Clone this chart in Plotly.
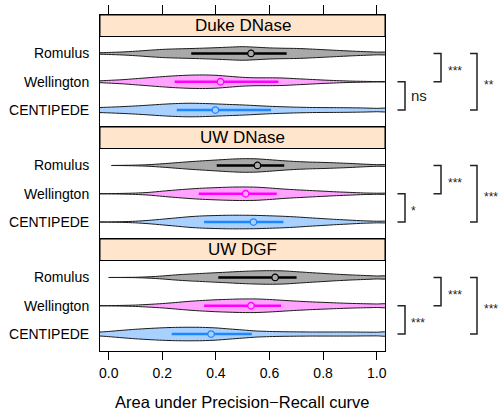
import plotly.graph_objects as go

# ---------------- data ----------------
GROUPS = ["Duke DNase", "UW DNase", "UW DGF"]
METHODS = ["Romulus", "Wellington", "CENTIPEDE"]
X_TICKS = [0.0, 0.2, 0.4, 0.6, 0.8, 1.0]
X_TICK_LABELS = ["0.0", "0.2", "0.4", "0.6", "0.8", "1.0"]
X_TITLE = "Area under Precision\u2212Recall curve"

# AUPR grid at which violin density widths were read (relative, max = 1)
GRID = [-0.05, 0.00, 0.05, 0.10, 0.15, 0.20, 0.25, 0.30, 0.35, 0.40, 0.45, 0.50,
        0.55, 0.60, 0.65, 0.70, 0.75, 0.80, 0.85, 0.90, 0.95, 1.00, 1.05]

DUKE_ROMULUS = [0.08, 0.15, 0.22, 0.33, 0.47, 0.60, 0.67, 0.72, 0.78, 0.85, 0.93, 1.00,
                0.92, 0.82, 0.77, 0.74, 0.66, 0.56, 0.46, 0.36, 0.28, 0.20, 0.14]
DUKE_WELLINGTON = [0.10, 0.20, 0.30, 0.45, 0.60, 0.75, 0.88, 0.97, 1.00, 0.95, 0.80, 0.65,
                   0.58, 0.58, 0.55, 0.45, 0.35, 0.25, 0.17, 0.10, 0.06, 0.03, 0.02]
DUKE_CENTIPEDE = [0.35, 0.42, 0.50, 0.60, 0.72, 0.85, 0.95, 1.00, 0.97, 0.90, 0.82, 0.75,
                  0.65, 0.55, 0.48, 0.42, 0.38, 0.36, 0.35, 0.33, 0.30, 0.25, 0.22]

UWD_ROMULUS = [0.00, 0.00, 0.02, 0.05, 0.12, 0.25, 0.40, 0.55, 0.68, 0.80, 0.92, 1.00,
               0.98, 0.85, 0.70, 0.58, 0.50, 0.45, 0.38, 0.30, 0.20, 0.12, 0.08]
UWD_WELLINGTON = [0.00, 0.02, 0.05, 0.10, 0.20, 0.38, 0.55, 0.70, 0.82, 0.90, 0.97, 1.00,
                  0.97, 0.85, 0.70, 0.58, 0.48, 0.38, 0.28, 0.20, 0.12, 0.08, 0.05]
UWD_CENTIPEDE = [0.00, 0.02, 0.05, 0.12, 0.25, 0.42, 0.60, 0.78, 0.90, 0.96, 1.00, 1.00,
                 0.98, 0.92, 0.85, 0.75, 0.62, 0.50, 0.38, 0.28, 0.18, 0.12, 0.08]

DGF_ROMULUS = [0.00, 0.00, 0.01, 0.03, 0.10, 0.22, 0.38, 0.50, 0.60, 0.70, 0.80, 0.90,
               0.97, 1.00, 0.97, 0.85, 0.72, 0.60, 0.48, 0.38, 0.30, 0.22, 0.18]
DGF_WELLINGTON = [0.00, 0.02, 0.05, 0.10, 0.20, 0.32, 0.48, 0.65, 0.78, 0.88, 0.95, 1.00,
                  1.00, 0.92, 0.80, 0.68, 0.58, 0.50, 0.42, 0.35, 0.30, 0.26, 0.24]
DGF_CENTIPEDE = [0.25, 0.38, 0.55, 0.70, 0.82, 0.92, 0.98, 1.00, 0.98, 0.90, 0.75, 0.60,
                 0.45, 0.38, 0.34, 0.32, 0.30, 0.30, 0.30, 0.30, 0.28, 0.27, 0.27]

DENSITIES = [
    [DUKE_ROMULUS, DUKE_WELLINGTON, DUKE_CENTIPEDE],
    [UWD_ROMULUS, UWD_WELLINGTON, UWD_CENTIPEDE],
    [DGF_ROMULUS, DGF_WELLINGTON, DGF_CENTIPEDE],
]
# lowest observed value of each violin (where the drawn shape starts)
MINIMA = [
    [-0.05, -0.05, -0.05],
    [0.01, -0.05, -0.05],
    [0.00, -0.05, -0.05],
]
# quartiles and medians
Q1 = [[0.308, 0.246, 0.254], [0.403, 0.336, 0.356], [0.409, 0.356, 0.235]]
MEDIAN = [[0.531, 0.417, 0.398], [0.555, 0.511, 0.540], [0.621, 0.531, 0.382]]
Q3 = [[0.664, 0.633, 0.606], [0.655, 0.627, 0.652], [0.701, 0.643, 0.534]]

# significance comparisons per panel: (method a, method b, label)
SIGNIF = [
    [("Wellington", "CENTIPEDE", "ns"), ("Romulus", "Wellington", "***"), ("Romulus", "CENTIPEDE", "**")],
    [("Wellington", "CENTIPEDE", "*"), ("Romulus", "Wellington", "***"), ("Romulus", "CENTIPEDE", "***")],
    [("Wellington", "CENTIPEDE", "***"), ("Romulus", "Wellington", "***"), ("Romulus", "CENTIPEDE", "***")],
]

# ---------------- style ----------------
FILL = ["#A9A9A9", "#FFA3FF", "#A9D1FF"]
LINE = ["#000000", "#FF00FF", "#1E86FF"]
OUTLINE = "#1a1a1a"
FONT = "Liberation Sans, Arial, Helvetica, sans-serif"
XRANGE = [-0.0325, 1.031]
STRIP_FRAC = 21.5 / 112.0
HALF_MAX = 0.24
Y_LOW = 0.4 - 3.2 * STRIP_FRAC / (1 - STRIP_FRAC)
YRANGE = [3.6, Y_LOW]
W, H = 499, 410
ML, MR, MT, MB = 100, 114, 15, 59
PW = W - ML - MR
PH = H - MT - MB

def px_to_paper(px):
    return (px - ML) / PW

def py_to_paper(py):
    return (H - MB - py) / PH

# bracket geometry (pixel x of vertical line, tick end, text start)
BRACKET_X = [(405, 397.5, 408.5), (441, 433.5, 445.5), (477, 470, 481.5)]

fig = go.Figure()
shapes, annotations = [], []

for p, group in enumerate(GROUPS):
    ax = "" if p == 0 else str(p + 1)
    xname, yname = "x" + ax, "y" + ax
    for m, method in enumerate(METHODS):
        row = m + 1
        dens = DENSITIES[p][m]
        lo = MINIMA[p][m]
        xs = [g for g in GRID if g >= lo]
        ws = [d for g, d in zip(GRID, dens) if g >= lo]
        if xs[0] > lo:
            xs = [lo] + xs
            ws = [0.0] + ws
        top = [row - w * HALF_MAX for w in ws]
        bot = [row + w * HALF_MAX for w in ws]
        fig.add_trace(go.Scatter(
            x=xs + xs[::-1], y=top + bot[::-1], mode="lines",
            fill="toself", fillcolor=FILL[m],
            line=dict(color=OUTLINE, width=1, shape="spline", smoothing=0.7),
            xaxis=xname, yaxis=yname, hoverinfo="skip", showlegend=False))
        fig.add_trace(go.Scatter(
            x=[Q1[p][m], Q3[p][m]], y=[row, row], mode="lines",
            line=dict(color=LINE[m], width=2.5),
            xaxis=xname, yaxis=yname, hoverinfo="skip", showlegend=False))
        fig.add_trace(go.Scatter(
            x=[MEDIAN[p][m]], y=[row], mode="markers",
            marker=dict(symbol="circle", size=6.5, color=FILL[m],
                        line=dict(color=LINE[m], width=1.3)),
            xaxis=xname, yaxis=yname, hoverinfo="skip", showlegend=False))

    d0 = 1 - (p + 1) / 3.0
    d1 = 1 - p / 3.0
    xa = dict(domain=[0, 1], range=XRANGE, anchor=yname, showgrid=False, zeroline=False,
              showline=True, linecolor="black", linewidth=1, mirror=True, automargin=False,
              tickvals=X_TICKS, ticktext=X_TICK_LABELS,
              tickfont=dict(family=FONT, size=14, color="black"))
    if p == 0:
        xa.update(side="top", ticks="outside", ticklen=9, tickwidth=1, tickcolor="black",
                  showticklabels=False)
    elif p == 2:
        xa.update(side="bottom", ticks="outside", ticklen=8, tickwidth=1, tickcolor="black",
                  showticklabels=True, ticklabelstandoff=1)
    else:
        xa.update(ticks="", showticklabels=False)
    if p > 0:
        xa["matches"] = "x"
    ya = dict(domain=[d0, d1], range=YRANGE, anchor=xname, showgrid=False, zeroline=False,
              showline=True, linecolor="black", linewidth=1, mirror=True, automargin=False,
              tickvals=[1, 2, 3], ticktext=METHODS, ticks="outside", ticklen=7,
              tickcolor="rgba(0,0,0,0)",
              tickfont=dict(family=FONT, size=14, color="black"))
    fig.layout["xaxis" + ax] = xa
    fig.layout["yaxis" + ax] = ya

    # strip
    shapes.append(dict(type="rect", xref=xname + " domain", yref=yname + " domain",
                       x0=0, x1=1, y0=1 - STRIP_FRAC, y1=1,
                       fillcolor="#FFE5CC", line=dict(color="black", width=1), layer="above"))
    annotations.append(dict(text=group, xref=xname + " domain", yref=yname + " domain",
                            x=0.5, y=1 - STRIP_FRAC / 2, showarrow=False,
                            xanchor="center", yanchor="middle",
                            font=dict(family=FONT, size=17, color="black")))

    # significance brackets
    for b, (ma, mb, lab) in enumerate(SIGNIF[p]):
        ya_ = METHODS.index(ma) + 1
        yb_ = METHODS.index(mb) + 1
        xv, xt, xtxt = (px_to_paper(v) for v in BRACKET_X[b])
        shapes.append(dict(type="path", xref="paper", yref=yname,
                           path=f"M {xt},{ya_} L {xv},{ya_} L {xv},{yb_} L {xt},{yb_}",
                           line=dict(color="#222222", width=1.5)))
        is_star = lab.startswith("*")
        annotations.append(dict(text=lab, xref="paper", yref=yname,
                                x=xtxt, y=(ya_ + yb_) / 2, showarrow=False,
                                xanchor="left", yanchor="middle",
                                yshift=-3 if is_star else 0,
                                font=dict(family=FONT, size=12 if is_star else 15,
                                          color="#222222")))

annotations.append(dict(text=X_TITLE, xref="paper", yref="paper",
                        x=0.5, y=py_to_paper(402), showarrow=False,
                        xanchor="center", yanchor="middle",
                        font=dict(family=FONT, size=16.5, color="black")))

fig.update_layout(width=W, height=H, margin=dict(l=ML, r=MR, t=MT, b=MB),
                  paper_bgcolor="white", plot_bgcolor="white",
                  shapes=shapes, annotations=annotations, showlegend=False)

fig.write_html("out.html")
